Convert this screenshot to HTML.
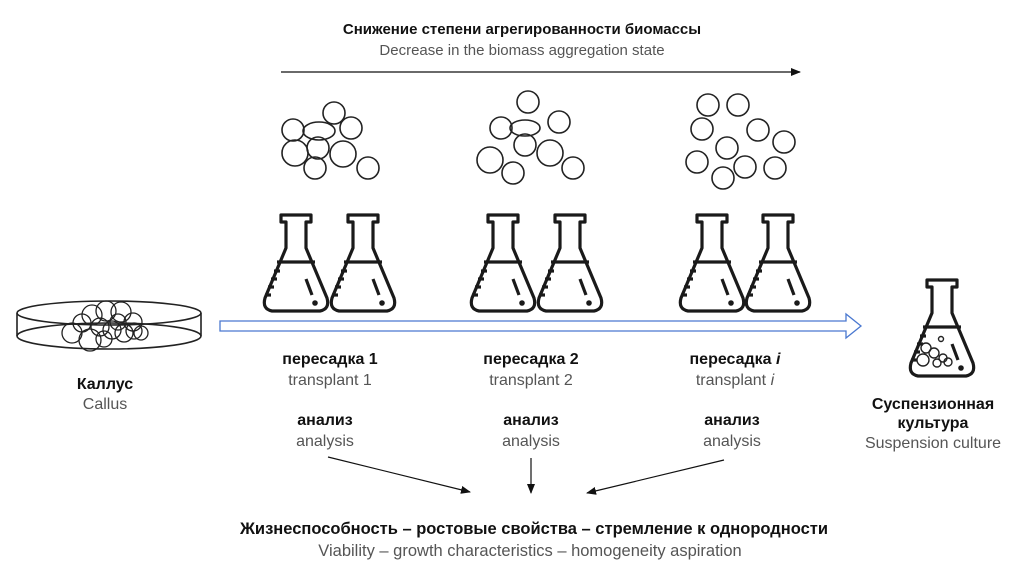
<!DOCTYPE html>
<html><head><meta charset="utf-8"><style>
html,body{margin:0;padding:0;background:#fff;}
svg{display:block;}
text{font-family:"Liberation Sans",sans-serif;font-size:16px;text-anchor:middle;}
.b{font-weight:bold;fill:#111;}
.g{fill:#555;}
</style></head><body>
<svg width="1028" height="577" viewBox="0 0 1028 577" xmlns="http://www.w3.org/2000/svg">
<defs>
<g id="flask" fill="none" stroke="#1a1a1a" stroke-width="3.2" stroke-linejoin="round">
  <path d="M-15,0 H15 V7 H10 V33 L31,83 Q34,94 24,96 H-24 Q-34,94 -31,83 L-10,33 V7 H-15 Z"/>
  <line x1="-19" y1="47" x2="19" y2="47"/>
  <line x1="-22" y1="56" x2="-16" y2="56"/>
  <line x1="-25" y1="64" x2="-19" y2="64"/>
  <line x1="-28" y1="72" x2="-22" y2="72"/>
  <line x1="-31" y1="80" x2="-25" y2="80"/>
  <line x1="10" y1="64" x2="16" y2="80"/>
  <circle cx="19" cy="88" r="1.2" fill="#1a1a1a"/>
</g>
<marker id="ah" markerWidth="10" markerHeight="8" refX="9" refY="4" orient="auto" markerUnits="userSpaceOnUse">
  <path d="M0,0 L10,4 L0,8 Z" fill="#111"/>
</marker>
</defs>

<text x="522" y="34" class="b" style="font-size:15px">Снижение степени агрегированности биомассы</text>
<text x="522" y="55" class="g" style="font-size:15px">Decrease in the biomass aggregation state</text>
<line x1="281" y1="72" x2="800" y2="72" stroke="#111" stroke-width="1.2" marker-end="url(#ah)"/>

<g fill="none" stroke="#222" stroke-width="1.6">
  <circle cx="293" cy="130" r="11"/><ellipse cx="319" cy="131" rx="16" ry="9"/>
  <circle cx="334" cy="113" r="11"/><circle cx="351" cy="128" r="11"/>
  <circle cx="295" cy="153" r="13"/><circle cx="318" cy="148" r="11"/>
  <circle cx="343" cy="154" r="13"/><circle cx="315" cy="168" r="11"/>
  <circle cx="368" cy="168" r="11"/>

  <circle cx="528" cy="102" r="11"/><circle cx="501" cy="128" r="11"/>
  <ellipse cx="525" cy="128" rx="15" ry="8"/><circle cx="559" cy="122" r="11"/>
  <circle cx="525" cy="145" r="11"/><circle cx="550" cy="153" r="13"/>
  <circle cx="490" cy="160" r="13"/><circle cx="513" cy="173" r="11"/>
  <circle cx="573" cy="168" r="11"/>

  <circle cx="708" cy="105" r="11"/><circle cx="738" cy="105" r="11"/>
  <circle cx="702" cy="129" r="11"/><circle cx="758" cy="130" r="11"/>
  <circle cx="784" cy="142" r="11"/><circle cx="727" cy="148" r="11"/>
  <circle cx="697" cy="162" r="11"/><circle cx="745" cy="167" r="11"/>
  <circle cx="775" cy="168" r="11"/><circle cx="723" cy="178" r="11"/>
</g>

<use href="#flask" x="296" y="215"/><use href="#flask" x="363" y="215"/>
<use href="#flask" x="503" y="215"/><use href="#flask" x="570" y="215"/>
<use href="#flask" x="712" y="215"/><use href="#flask" x="778" y="215"/>

<path d="M220,321 H846 V314 L861,326 L846,338 V331 H220 Z" fill="#fff" stroke="#4a78d0" stroke-width="1.3"/>

<!-- petri dish -->
<g fill="none" stroke="#222" stroke-width="1.6">
  <ellipse cx="109" cy="313" rx="92" ry="12"/>
  <ellipse cx="109" cy="336" rx="92" ry="13"/>
  <line x1="17" y1="313" x2="17" y2="336"/><line x1="201" y1="313" x2="201" y2="336"/>
  <g stroke-width="1.3">
  <circle cx="92" cy="315" r="10"/><circle cx="106" cy="311" r="10"/><circle cx="121" cy="312" r="10"/>
  <circle cx="133" cy="322" r="9"/><circle cx="82" cy="323" r="9"/><circle cx="72" cy="333" r="10"/>
  <circle cx="90" cy="340" r="11"/><circle cx="100" cy="327" r="9"/><circle cx="112" cy="330" r="9"/>
  <circle cx="124" cy="333" r="9"/><circle cx="134" cy="331" r="8"/><circle cx="141" cy="333" r="7"/>
  <circle cx="104" cy="339" r="8"/><circle cx="118" cy="322" r="8"/>
  </g>
</g>

<use href="#flask" x="942" y="280"/>
<g fill="none" stroke="#222" stroke-width="1.4">
  <circle cx="926" cy="348" r="5"/><circle cx="934" cy="353" r="5"/><circle cx="943" cy="358" r="4"/>
  <circle cx="923" cy="360" r="6"/><circle cx="937" cy="363" r="4"/><circle cx="948" cy="362" r="4"/>
  <circle cx="941" cy="339" r="2.5"/>
</g>

<text x="330" y="364" class="b">пересадка 1</text>
<text x="330" y="385" class="g">transplant 1</text>
<text x="531" y="364" class="b">пересадка 2</text>
<text x="531" y="385" class="g">transplant 2</text>
<text x="735" y="364" class="b">пересадка <tspan font-style="italic">i</tspan></text>
<text x="735" y="385" class="g">transplant <tspan font-style="italic">i</tspan></text>

<text x="325" y="425" class="b">анализ</text>
<text x="325" y="446" class="g">analysis</text>
<text x="531" y="425" class="b">анализ</text>
<text x="531" y="446" class="g">analysis</text>
<text x="732" y="425" class="b">анализ</text>
<text x="732" y="446" class="g">analysis</text>

<text x="105" y="389" class="b">Каллус</text>
<text x="105" y="409" class="g">Callus</text>

<text x="933" y="409" class="b">Суспензионная</text>
<text x="933" y="428" class="b">культура</text>
<text x="933" y="448" class="g">Suspension culture</text>

<line x1="328" y1="457" x2="470" y2="492" stroke="#111" stroke-width="1.2" marker-end="url(#ah)"/>
<line x1="531" y1="458" x2="531" y2="493" stroke="#111" stroke-width="1.2" marker-end="url(#ah)"/>
<line x1="724" y1="460" x2="587" y2="493" stroke="#111" stroke-width="1.2" marker-end="url(#ah)"/>

<text x="534" y="534" class="b" style="font-size:16.5px">Жизнеспособность – ростовые свойства – стремление к однородности</text>
<text x="530" y="556" class="g" style="font-size:16.5px">Viability – growth characteristics – homogeneity aspiration</text>
</svg>
</body></html>
